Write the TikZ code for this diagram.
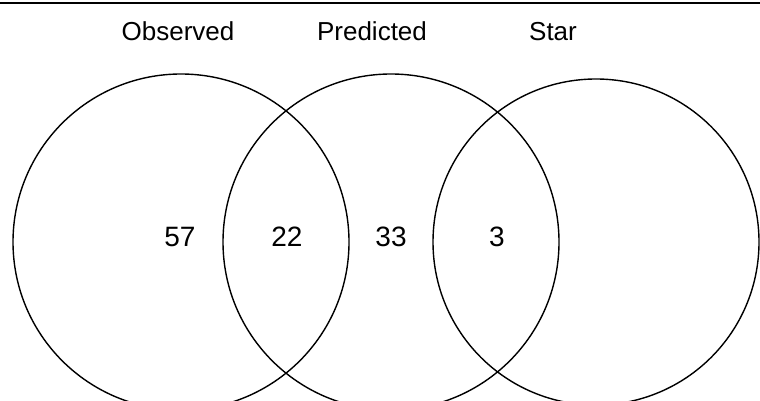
\documentclass[tikz,border=0pt]{standalone}
\usepackage{fontspec}
\setmainfont{Liberation Sans}
\usetikzlibrary{positioning}

\begin{document}
\begin{tikzpicture}[
  x=1pt, y=-1pt,
  font=\fontsize{26}{30}\selectfont,
  set/.style   ={draw, circle, inner sep=0pt, line width=1.4pt,
                 minimum size=336pt},
  setname/.style={inner sep=0pt, anchor=base},
  count/.style ={inner sep=0pt, font=\fontsize{28}{32}\selectfont}
]
\useasboundingbox (0,0) rectangle (760,401);

% --- rule across the top ---
\coordinate (ruleL) at (0,3);
\coordinate (ruleR) at (760,3);
\draw[line width=1.5pt] (ruleL) -- (ruleR);

% --- the three sets ---
\node[set] (obs)  at (181,242) {};
\node[set] (pred) at (391,242) {};
\node[set, minimum size=326pt] (star) at (596,242) {};

% --- set names ---
\node[setname] (obsname)  at (178,41) {Observed};
\node[setname] (predname) at (372,41) {Predicted};
\node[setname] (starname) at (553,41) {Star};

% --- counts ---
\node[count] (nobs)   at (180,237) {57};
\node[count] (nop)    at (287,237) {22};
\node[count] (npred)  at (391,237) {33};
\node[count] (nps)    at (497,237) {3};

\end{tikzpicture}
\end{document}
